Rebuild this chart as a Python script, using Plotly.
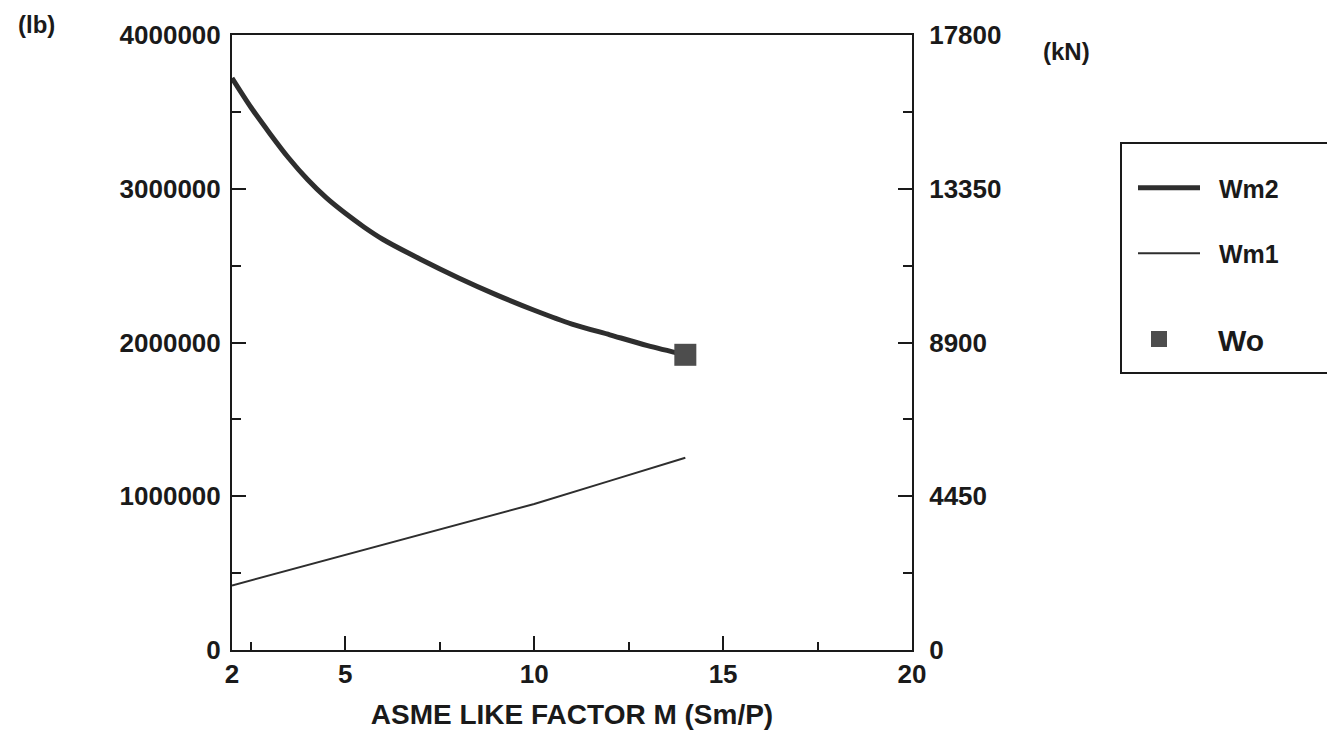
import plotly.graph_objects as go

# ---- data ----
m_wm2 = [2.0, 2.5, 3.0, 3.5, 4.0, 4.5, 5.0, 5.5, 6.0, 7.0, 8.0, 9.0, 10.0, 11.0, 12.0, 13.0, 14.0]
wm2_lb = [3720000, 3530000, 3360000, 3200000, 3060000, 2940000, 2840000, 2750000, 2670000,
          2540000, 2420000, 2310000, 2210000, 2120000, 2050000, 1980000, 1920000]

m_wm1 = [2.0, 5.0, 8.0, 10.0, 12.0, 14.0]
wm1_lb = [420000, 620000, 820000, 950000, 1100000, 1250000]

m_wo = [14.0]
wo_lb = [1920000]

x_ticks = [2, 5, 10, 15, 20]
x_minor = [2.5, 7.5, 12.5, 17.5]
lb_ticks = [0, 1000000, 2000000, 3000000, 4000000]
lb_labels = ["0", "1000000", "2000000", "3000000", "4000000"]
lb_minor = [500000, 1500000, 2500000, 3500000]
kn_ticks = [0, 4450, 8900, 13350, 17800]
kn_labels = ["0", "4450", "8900", "13350", "17800"]
kn_minor = [2225, 6675, 11125, 15575]

FONT = "Liberation Sans, Arial, Helvetica, sans-serif"
INK = "#1a1a1a"
NB = "\u00a0"

# page geometry (the browser body adds an 8px offset)
OFF = 8
PL, PR, PT, PB = 232, 912, 35, 650          # plot rectangle in page pixels
W, H = 1335 - OFF, 747 - OFF
PW, PH = PR - PL, PB - PT


def px_x(p):
    return (p - PL) / PW


def px_y(p):
    return (PB - p) / PH


fig = go.Figure()
fig.add_trace(go.Scatter(x=m_wm2, y=wm2_lb, mode="lines", name=NB * 2 + "Wm2", legendgroup="a",
                         line=dict(color="#2e2e2e", width=5, shape="spline", smoothing=0.8)))
fig.add_trace(go.Scatter(x=m_wm1, y=wm1_lb, mode="lines", name=NB * 2 + "Wm1", legendgroup="b",
                         line=dict(color="#2e2e2e", width=2)))
fig.add_trace(go.Scatter(x=m_wo, y=wo_lb, mode="markers", legendgroup="c", legend="legend2",
                         name='<span style="font-size:30px">Wo</span>',
                         marker=dict(symbol="square", size=22, color="#4d4d4d",
                                     line=dict(width=0))))
# right axis (kN) carries the same Wo point converted, invisible
fig.add_trace(go.Scatter(x=m_wo, y=[v * 17800 / 4000000 for v in wo_lb], yaxis="y2",
                         mode="markers", showlegend=False, hoverinfo="skip",
                         marker=dict(opacity=0)))

axis_common = dict(showgrid=False, zeroline=False, showline=True, linecolor=INK,
                   linewidth=2, ticks="inside", tickcolor=INK, tickwidth=2,
                   tickfont=dict(family=FONT, size=26, color=INK, weight="bold"))

fig.update_layout(
    width=W, height=H,
    margin=dict(l=PL - OFF, r=W - (PR - OFF), t=PT - OFF, b=H - (PB - OFF), autoexpand=False),
    paper_bgcolor="white", plot_bgcolor="white",
    xaxis=dict(range=[2, 20], tickvals=x_ticks, ticklen=14, mirror=True,
               minor=dict(tickvals=x_minor, ticklen=8, ticks="inside", tickcolor=INK, tickwidth=2),
               title=dict(text="ASME LIKE FACTOR M (Sm/P)", standoff=16,
                          font=dict(family=FONT, size=28, color=INK, weight="bold")),
               **axis_common),
    yaxis=dict(range=[0, 4000000], tickvals=lb_ticks, ticktext=lb_labels, ticklen=14,
               minor=dict(tickvals=lb_minor, ticklen=9, ticks="inside", tickcolor=INK, tickwidth=2),
               ticklabelstandoff=4, **axis_common),
    yaxis2=dict(range=[0, 17800], tickvals=kn_ticks, ticktext=kn_labels, ticklen=14,
                overlaying="y", side="right",
                minor=dict(tickvals=kn_minor, ticklen=9, ticks="inside", tickcolor=INK, tickwidth=2),
                ticklabelstandoff=10, **axis_common),
    legend=dict(x=px_x(1133), y=px_y(165), xanchor="left", yanchor="top",
                borderwidth=0, bgcolor="rgba(0,0,0,0)",
                font=dict(family=FONT, size=25, color=INK, weight="bold"),
                tracegroupgap=30, itemwidth=62, traceorder="grouped"),
    legend2=dict(x=px_x(1100), y=px_y(313), xanchor="left", yanchor="top",
                 borderwidth=0, bgcolor="rgba(0,0,0,0)",
                 font=dict(family=FONT, size=30, color=INK, weight="bold"),
                 itemwidth=108),
    shapes=[
        dict(type="rect", xref="paper", yref="paper",
             x0=px_x(1121), x1=px_x(1345), y0=px_y(373), y1=px_y(143),
             line=dict(color=INK, width=2), fillcolor="rgba(0,0,0,0)", layer="below"),
    ],
    annotations=[
        dict(text="(lb)", x=px_x(36), y=px_y(25), xref="paper", yref="paper",
             xanchor="center", yanchor="middle", showarrow=False,
             font=dict(family=FONT, size=24, color=INK, weight="bold")),
        dict(text="(kN)", x=px_x(1066), y=px_y(52), xref="paper", yref="paper",
             xanchor="center", yanchor="middle", showarrow=False,
             font=dict(family=FONT, size=24, color=INK, weight="bold")),
    ],
    showlegend=True,
)

fig.write_html("out.html")
